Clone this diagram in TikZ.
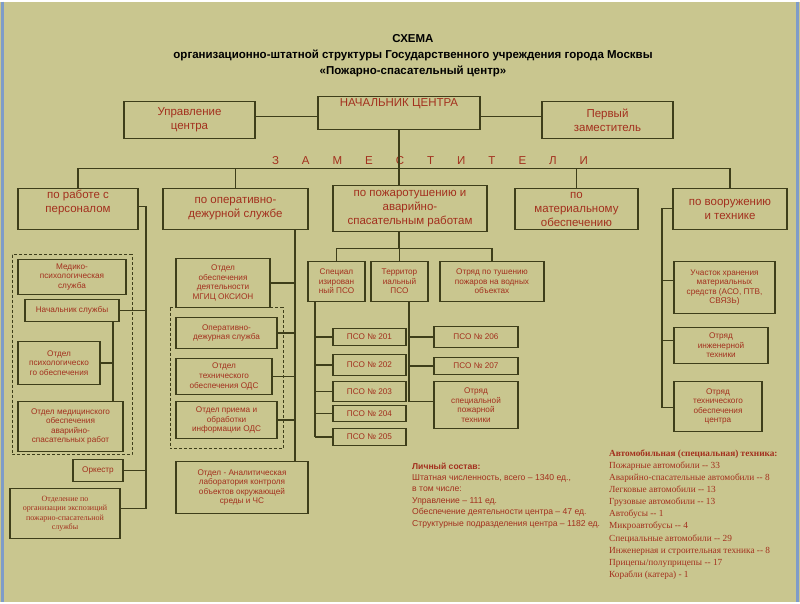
\documentclass[tikz,border=0pt]{standalone}
\usepackage{fontspec}
\setmainfont{Liberation Sans}
\newfontfamily\serf{Liberation Serif}
\begin{document}
\definecolor{bg}{HTML}{C9C68F}
\definecolor{ln}{HTML}{3E3E1A}
\definecolor{tx}{HTML}{A3301E}
\definecolor{fr}{HTML}{7E9CC8}
\begin{tikzpicture}[x=1pt,y=-1pt,
 box/.style={draw=ln,line width=1.3pt,fill=bg,text=tx,align=center,inner sep=1pt,font=\fontsize{8.2}{9.6}\selectfont},
 big/.style={font=\fontsize{11.5}{14}\selectfont},
 con/.style={draw=ln,line width=1.3pt},
 dsh/.style={draw=ln,line width=1pt,dash pattern=on 3pt off 2pt}]
\newcommand\bx[7][]{\node[box,#1,minimum width={(#4)-(#2)},minimum height={(#5)-(#3)}] (#6) at ({((#2)+(#4))/2},{((#3)+(#5))/2}) {#7};}
\fill[bg] (0,0) rectangle (800,600);
\draw[fr,line width=3pt] (2,0) -- (2,600) (797,0) -- (797,600);
\useasboundingbox (0,0) rectangle (800,600);
% title
\node[font=\bfseries\fontsize{11.5}{16}\selectfont,align=center] (title) at (413,54) {СХЕМА\\организационно-штатной структуры Государственного учреждения города Москвы\\«Пожарно-спасательный центр»};
% top
\bx[big]{318}{95}{480}{128}{boss}{НАЧАЛЬНИК ЦЕНТРА\\[6pt]}
\bx[big]{124}{100}{255}{137}{upr}{Управление\\центра}
\bx[big]{542}{100}{673}{137}{perv}{Первый\\заместитель}
\coordinate (b1) at (399,115);
\draw[con] (upr.east |- b1) -- (boss.west |- b1) (boss.east |- b1) -- (perv.west |- b1);
\node[text=tx,font=\fontsize{11.5}{12}\selectfont] (zam) at (430,159) {З\hspace{2em}А\hspace{2em}М\hspace{2em}Е\hspace{2em}С\hspace{2em}Т\hspace{2em}И\hspace{2em}Т\hspace{2em}Е\hspace{2em}Л\hspace{2em}И};
\bx[big]{18}{187}{138}{228}{z1}{по работе с\\персоналом\\[2pt]}
\bx[big]{163}{187}{308}{228}{z2}{по оперативно-\\дежурной службе}
\bx[big]{333}{184}{487}{230}{z3}{по пожаротушению и\\аварийно-\\спасательным работам}
\bx[big]{515}{187}{638}{228}{z4}{по\\материальному\\обеспечению}
\bx[big]{673}{187}{787}{228}{z5}{по вооружению\\и технике}
\coordinate (h) at (399,167);
\draw[con] (boss.south) -- (boss.south |- z3.north);
\draw[con] (z1.north) |- (h) -| (z5.north);
\draw[con] (z2.north) -- (z2.north |- h) (z4.north) -- (z4.north |- h);
% left column
\draw[dsh] (12,253) rectangle (132,453);
\bx{18}{258}{126}{293}{med}{Медико-\\психологическая\\служба}
\bx{25}{298}{119}{320}{nach}{Начальник службы}
\bx{18}{340}{100}{383}{psy}{Отдел\\психологическо\\го обеспечения}
\bx{18}{400}{123}{450}{medo}{Отдел медицинского\\обеспечения\\аварийно-\\спасательных работ}
\bx{73}{458}{123}{480}{ork}{Оркестр}
\bx[font=\serf\fontsize{8}{9.5}\selectfont]{10}{487}{120}{537}{otd}{Отделение по\\организации экспозиций\\пожарно-спасательной\\службы}
\coordinate (l1) at (146,205);
\coordinate (l2) at (146,507);
\draw[con] (z1.east |- l1) -- (l1) -- (l2) -- (otd.east |- l2);
\draw[con] (nach.east) -- (nach.east -| l1) (ork.east) -- (ork.east -| l1);
\coordinate (i1) at (113,320);
\draw[con] (i1) -- (113,400) (psy.east) -- (psy.east -| i1);
% second column
\coordinate (m1) at (295,228);
\coordinate (m2) at (295,460);
\draw[con] (m1) -- (m2);
\draw[dsh] (170,306) rectangle (283,447);
\bx{176}{257}{270}{306}{mgic}{Отдел\\обеспечения\\деятельности\\МГИЦ ОКСИОН}
\bx{176}{316}{277}{347}{ods}{Оперативно-\\дежурная служба}
\bx{176}{357}{272}{393}{teh}{Отдел\\технического\\обеспечения ОДС}
\bx{176}{400}{277}{437}{pri}{Отдел приема и\\обработки\\информации ОДС}
\bx{176}{460}{308}{512}{anl}{Отдел - Аналитическая\\лаборатория контроля\\объектов окружающей\\среды и ЧС}
\foreach \n in {mgic,ods,teh,pri} \draw[con] (\n.east) -- (\n.east -| m1);
% center
\bx{308}{260}{365}{300}{spec}{Специал\\изирован\\ный ПСО}
\bx{371}{260}{428}{300}{terr}{Территор\\иальный\\ПСО}
\bx{440}{260}{544}{300}{vod}{Отряд по тушению\\пожаров на водных\\объектах}
\coordinate (c1) at (399,247);
\draw[con] (z3.south -| c1) -- (c1) (spec.north) |- (c1) -| (vod.north);
\draw[con] (terr.north) -- (terr.north |- c1);
\bx{333}{327}{406}{344}{p201}{ПСО № 201}
\bx{333}{353}{406}{374}{p202}{ПСО № 202}
\bx{333}{380}{406}{400}{p203}{ПСО № 203}
\bx{333}{404}{406}{420}{p204}{ПСО № 204}
\bx{333}{427}{406}{444}{p205}{ПСО № 205}
\coordinate (s1) at (315,300);
\coordinate (s2) at (315,435);
\draw[con] (s1) -- (s2);
\foreach \n in {p201,p202,p203,p204,p205} \draw[con] (\n.west) -- (\n.west -| s1);
\bx{434}{325}{518}{346}{p206}{ПСО № 206}
\bx{434}{356}{518}{373}{p207}{ПСО № 207}
\bx{434}{380}{518}{427}{ospt}{Отряд\\специальной\\пожарной\\техники}
\coordinate (t1) at (409,300);
\coordinate (t2) at (409,400);
\draw[con] (t1) -- (t2) -- (ospt.west |- t2);
\draw[con] (p206.west) -- (p206.west -| t1) (p207.west) -- (p207.west -| t1);
% right
\bx{674}{260}{775}{312}{uch}{Участок хранения\\материальных\\средств (АСО, ПТВ,\\СВЯЗЬ)}
\bx{674}{326}{768}{362}{inzh}{Отряд\\инженерной\\техники}
\bx{674}{380}{762}{430}{otc}{Отряд\\технического\\обеспечения\\центра}
\coordinate (r1) at (662,207);
\coordinate (r2) at (662,406);
\draw[con] (z5.west |- r1) -- (r1) -- (r2) -- (otc.west |- r2);
\draw[con] (uch.west) ++(0,-7) -- ++(-12,0) (inzh.west) ++(0,-5) -- ++(-12,0);
% text blocks
\node[anchor=north west,text=tx,align=left,font=\fontsize{8.6}{11.4}\selectfont,inner sep=0] (ls) at (412,461) {\textbf{Личный состав:}\\Штатная численность, всего -- 1340 ед.,\\в том числе:\\Управление -- 111 ед.\\Обеспечение деятельности центра -- 47 ед.\\Структурные подразделения центра -- 1182 ед.};
\node[anchor=north west,text=tx,align=left,font=\serf\fontsize{9.3}{12.1}\selectfont,inner sep=0] (at) at (609,448) {\textbf{Автомобильная (специальная) техника:}\\Пожарные автомобили -- 33\\Аварийно-спасательные автомобили -- 8\\Легковые автомобили -- 13\\Грузовые автомобили -- 13\\Автобусы -- 1\\Микроавтобусы -- 4\\Специальные автомобили -- 29\\Инженерная и строительная техника -- 8\\Прицепы/полуприцепы -- 17\\Корабли (катера) - 1};
\end{tikzpicture}
\end{document}
